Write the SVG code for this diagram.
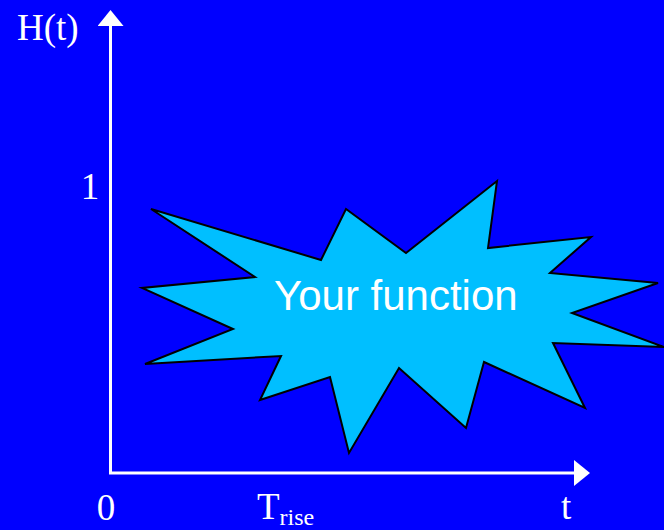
<svg xmlns="http://www.w3.org/2000/svg" width="664" height="530" viewBox="0 0 664 530">
<style>
.lbl{font-family:"Liberation Serif","Times New Roman",serif;font-size:37px;fill:#ffffff}
.axis{stroke:#ffffff;stroke-width:3;fill:none}
</style>
<defs>
<marker id="ah" markerUnits="userSpaceOnUse" markerWidth="16" markerHeight="26" refX="0" refY="13" orient="auto">
<path d="M0,0 L16,13 L0,26 Z" fill="#ffffff"/>
</marker>
</defs>
<rect width="664" height="530" fill="#0000ff"/>
<g id="connectors">
<path class="axis" d="M110.5,473 L110.5,26" marker-end="url(#ah)"/>
<path class="axis" d="M109,473 L574,473" marker-end="url(#ah)"/>
</g>
<g id="labels">
<text class="lbl" x="17" y="40">H(t)</text>
<text class="lbl" x="90" y="199" text-anchor="middle">1</text>
<text class="lbl" x="106" y="520" text-anchor="middle">0</text>
<text class="lbl" x="257" y="519">T<tspan font-size="24" dy="6">rise</tspan></text>
<text class="lbl" x="561" y="519">t</text>
</g>
<g id="your-function">
<polygon points="151,209 321,260 346,209 406,253 497,181 488,248 591,237 550,273 658,283 572,313 664,347 553,343 585,408 484,362 466,428 399,368 349,453 330,377 260,400 281,356 145,364 233,329 142,288 255,277" fill="#00bfff" stroke="#000000" stroke-width="2" stroke-linejoin="miter"/>
<text x="274" y="310" font-family="'Liberation Sans',Arial,sans-serif" font-size="42" fill="#ffffff">Your function</text>
</g>
</svg>
